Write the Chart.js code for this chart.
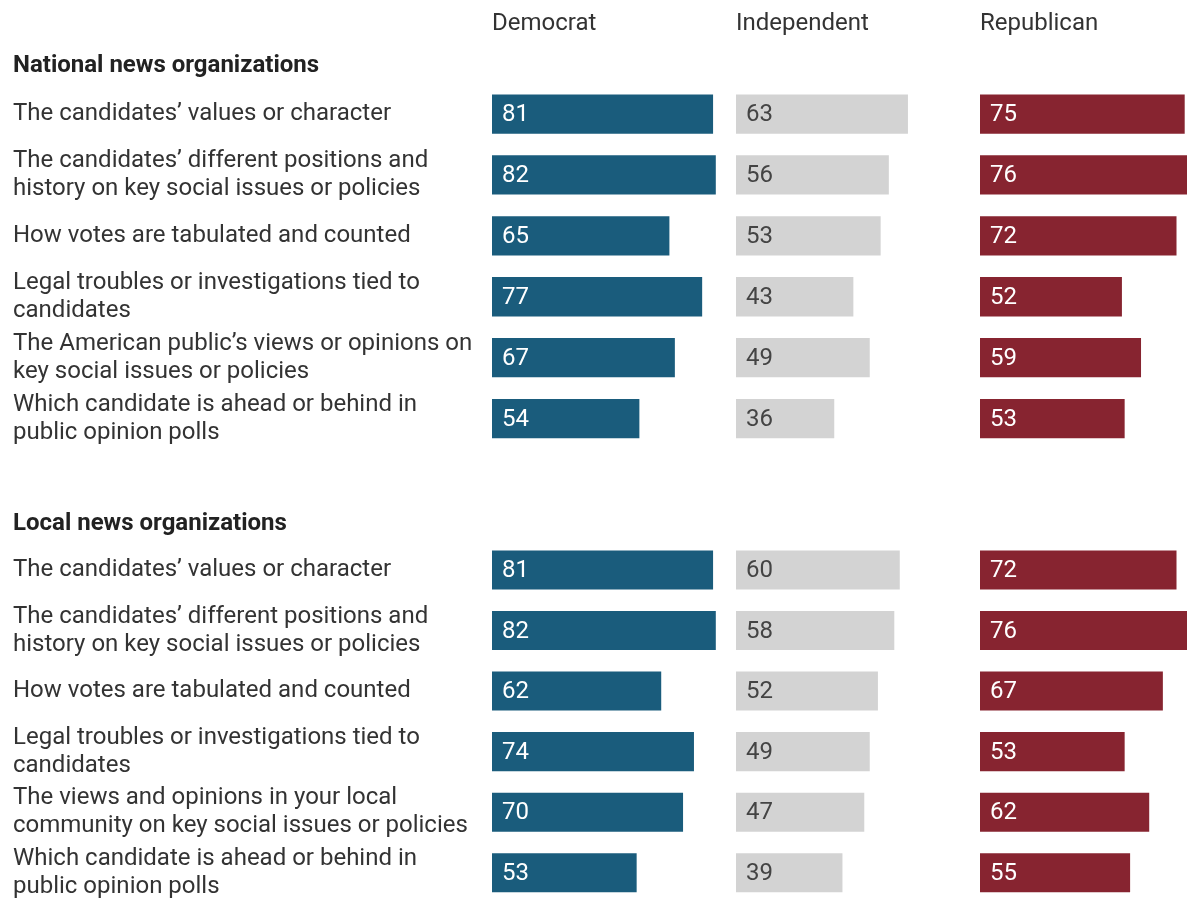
<!DOCTYPE html>
<html>
<head>
<meta charset="utf-8">
<script src="https://cdn.jsdelivr.net/npm/chart.js@4/dist/chart.umd.min.js"></script>
<style>
  html, body { margin: 0; padding: 0; background: #fff; overflow: hidden; }
  canvas { display: block; }
</style>
</head>
<body>
<canvas id="nacional" width="1224" height="449"></canvas>
<canvas id="local" width="1224" height="454"></canvas>
<script>
// Colunas (partidos)
const partidos = ["Democrat", "Independent", "Republican"];

// Organizações nacionais
const rotulosNacional = [
    "The candidates’ values or character",
    ["The candidates’ different positions and", "history on key social issues or policies"],
    "How votes are tabulated and counted",
    ["Legal troubles or investigations tied to", "candidates"],
    ["The American public’s views or opinions on", "key social issues or policies"],
    ["Which candidate is ahead or behind in", "public opinion polls"]
];
const nacionalDem = [81, 82, 65, 77, 67, 54];
const nacionalInd = [63, 56, 53, 43, 49, 36];
const nacionalRep = [75, 76, 72, 52, 59, 53];

// Organizações locais
const rotulosLocal = [
    "The candidates’ values or character",
    ["The candidates’ different positions and", "history on key social issues or policies"],
    "How votes are tabulated and counted",
    ["Legal troubles or investigations tied to", "candidates"],
    ["The views and opinions in your local", "community on key social issues or policies"],
    ["Which candidate is ahead or behind in", "public opinion polls"]
];
const localDem = [81, 82, 62, 74, 70, 53];
const localInd = [60, 58, 52, 49, 47, 39];
const localRep = [72, 76, 67, 53, 62, 55];

// Escala de cada coluna (0 até o máximo, deixando um respiro entre colunas)
const escalaMax = 89.4;

const cores = ["#1a5c7c", "#d3d3d3", "#872430"];
const coresTexto = ["#ffffff", "#444444", "#ffffff"];

// Plugin simples para escrever os valores dentro das barras
const rotulosValor = {
    id: 'rotulosValor',
    afterDatasetsDraw(chart) {
        const ctx = chart.ctx;
        ctx.save();
        ctx.font = '24px Roboto';
        ctx.textBaseline = 'middle';
        ctx.textAlign = 'left';
        chart.data.datasets.forEach((ds, i) => {
            const meta = chart.getDatasetMeta(i);
            ctx.fillStyle = coresTexto[i];
            meta.data.forEach((barra, j) => {
                ctx.fillText(ds.data[j], barra.base + 10, barra.y + 1);
            });
        });
        ctx.restore();
    }
};

// peso maior = mais à esquerda dentro da pilha de eixos
function eixoColuna(nome, peso, mostrar) {
    return {
        type: 'linear',
        position: 'top',
        stack: 'colunas',
        stackWeight: 1,
        weight: peso,
        min: 0,
        max: escalaMax,
        display: mostrar,
        grid: { display: false, drawTicks: false },
        border: { display: false },
        ticks: { display: false },
        title: {
            display: true,
            text: nome,
            align: 'start',
            color: '#333333',
            font: { family: 'Roboto', size: 24, lineHeight: 1.2 },
            padding: { top: 10, bottom: 0 }
        }
    };
}

function montarGrafico(id, titulo, rotulos, dem, ind, rep, mostrarColunas, padTitulo) {
    const ctx = document.getElementById(id).getContext('2d');
    return new Chart(ctx, {
        type: 'bar',
        data: {
            labels: rotulos,
            datasets: [
                { data: dem, xAxisID: 'xDem', backgroundColor: cores[0] },
                { data: ind, xAxisID: 'xInd', backgroundColor: cores[1] },
                { data: rep, xAxisID: 'xRep', backgroundColor: cores[2] }
            ]
        },
        options: {
            indexAxis: 'y',
            responsive: false,
            animation: false,
            grouped: false,
            categoryPercentage: 1,
            barPercentage: 0.645,
            layout: { padding: { left: 13, right: 0, top: 0, bottom: 0 } },
            scales: {
                xDem: eixoColuna(partidos[0], 3, mostrarColunas),
                xInd: eixoColuna(partidos[1], 2, mostrarColunas),
                xRep: eixoColuna(partidos[2], 1, mostrarColunas),
                y: {
                    type: 'category',
                    position: 'left',
                    grid: { display: false, drawTicks: false },
                    border: { display: false },
                    ticks: {
                        crossAlign: 'far',
                        autoSkip: false,
                        color: '#333333',
                        font: { family: 'Roboto', size: 24, lineHeight: 1.1667 }
                    },
                    afterFit: (escala) => {
                        escala.width = 479;
                        escala.paddingTop = 0;
                        escala.paddingBottom = 0;
                    }
                }
            },
            plugins: {
                legend: { display: false },
                tooltip: { enabled: false },
                title: {
                    display: true,
                    text: titulo,
                    align: 'start',
                    weight: 0,
                    color: '#222222',
                    font: { family: 'Roboto', size: 24, weight: 'bold', lineHeight: 1.2 },
                    padding: padTitulo
                }
            }
        },
        plugins: [rotulosValor]
    });
}

montarGrafico('nacional', 'National news organizations', rotulosNacional,
    nacionalDem, nacionalInd, nacionalRep, true, { top: 13, bottom: 3 });
montarGrafico('local', 'Local news organizations', rotulosLocal,
    localDem, localInd, localRep, false, { top: 60.6, bottom: 1.3 });
</script>
</body>
</html>
